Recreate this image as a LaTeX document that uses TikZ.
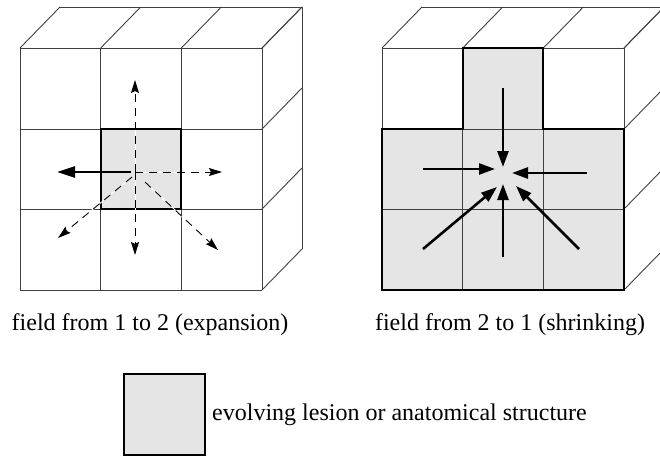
\documentclass[tikz,border=0pt]{standalone}
\usepackage{fontspec}
\setmainfont{Liberation Serif}
\usetikzlibrary{arrows.meta}
\begin{document}
\begin{tikzpicture}[x=1pt,y=-1pt,
  grid/.style={draw=black!75,line width=0.9pt},
  lesion/.style={fill=black!10},
  outline/.style={draw=black,line width=2.3pt,line join=miter},
  inarrow/.style={line width=2.6pt,-{Triangle[length=16pt,width=11pt]}},
  outarrow/.style={line width=2.6pt,-{Triangle[length=18pt,width=11pt]}},
  dasharrow/.style={line width=0.9pt,dash pattern=on 8pt off 6pt,-{Stealth[length=13pt,width=8pt,inset=2pt]}},
  under/.style={draw=white,line width=0.9pt,shorten >=12pt},
  caption/.style={font=\fontsize{24}{28}\selectfont,inner sep=0pt}]
\useasboundingbox (0,0) rectangle (660,458);
\clip (0,0) rectangle (660,458);
% fills
\fill[lesion] (100.7,129) rectangle (181.3,209);
\fill[lesion] (462.7,48) -- (543.3,48) -- (543.3,129) -- (624,129) -- (624,290) -- (382,290) -- (382,129) -- (462.7,129) -- cycle;
% cubes
\foreach \s in {0,362}{
  \begin{scope}[xshift=\s pt]
    \foreach \x in {20,100.7,181.3,262}{
      \draw[grid] (\x,48) -- (\x,290);
      \draw[grid] (\x,48) -- ++(40,-41);
    }
    \foreach \y in {48,129,209,290}{
      \draw[grid] (20,\y) -- (262,\y);
      \draw[grid] (262,\y) -- ++(40,-41);
    }
    \draw[grid] (60,7) -- (302,7) -- (302,249);
  \end{scope}
}
% outlines
\draw[outline] (100.7,129) rectangle (181.3,209);
\draw[outline] (462.7,48) -- (543.3,48) -- (543.3,129) -- (624,129) -- (624,290) -- (382,290) -- (382,129) -- (462.7,129) -- cycle;
% left arrows
\coordinate (c1) at (135,172);
\coordinate (u1) at (135,80);
\coordinate (d1) at (135,255);
\coordinate (r1) at (222,172);
\coordinate (l1) at (57,172);
\coordinate (ls) at (131,172);
\coordinate (dls) at (132,177);
\coordinate (dl1) at (58,238);
\coordinate (drs) at (145,182);
\coordinate (dr1) at (218,250);
\foreach \a/\b in {c1/u1,c1/d1,c1/r1,dls/dl1,drs/dr1}{
  \draw[under] (\a) -- (\b);
  \draw[dasharrow] (\a) -- (\b);
}
\draw[outarrow] (ls) -- (l1);
% right arrows
\coordinate (t2s) at (503,88);   \coordinate (t2e) at (503,167);
\coordinate (l2s) at (423,169);  \coordinate (l2e) at (495,169);
\coordinate (r2s) at (587,173);  \coordinate (r2e) at (512,173);
\coordinate (bl2s) at (423,249); \coordinate (bl2e) at (497,187);
\coordinate (b2s) at (503,257);  \coordinate (b2e) at (503,184);
\coordinate (br2s) at (579,249); \coordinate (br2e) at (516,186);
\foreach \a/\b in {t2s/t2e,l2s/l2e,r2s/r2e,bl2s/bl2e,b2s/b2e,br2s/br2e}{
  \draw[inarrow] (\a) -- (\b);
}
% captions
\node[caption,anchor=base] (cap1) at (150,330) {field from 1 to 2 (expansion)};
\node[caption,anchor=base] (cap2) at (510,330) {field from 2 to 1 (shrinking)};
% legend
\node[outline,lesion,minimum size=81pt,inner sep=0pt] (key) at (164.5,414.5) {};
\node[caption,anchor=base west] (keytext) at (212,420) {evolving lesion or anatomical structure};
\end{tikzpicture}
\end{document}
